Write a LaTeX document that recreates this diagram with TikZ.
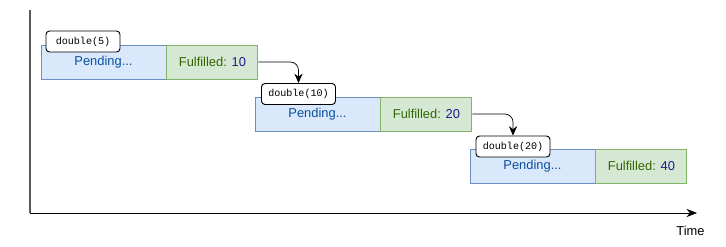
\documentclass[tikz,border=0pt]{standalone}
\usepackage{fontspec}
\setmainfont{Liberation Sans}
\setmonofont{Liberation Mono}
\usepackage{tikz}
\usepackage{xcolor}
\usetikzlibrary{arrows.meta,positioning}

\definecolor{pendfill}{HTML}{DAE8FC}
\definecolor{penddraw}{HTML}{6C8EBF}
\definecolor{pendtext}{HTML}{0A4F9E}
\definecolor{fulfill}{HTML}{D5E8D4}
\definecolor{fuldraw}{HTML}{82B366}
\definecolor{fultext}{HTML}{336600}
\definecolor{valtext}{HTML}{1A1A8C}

\begin{document}
\begin{tikzpicture}[x=0.03cm, y=-0.03cm, node distance=0pt, thick,
    pending/.style={draw=penddraw, fill=pendfill, text=pendtext, minimum width=3.75cm, minimum height=1.02cm, inner sep=0pt, font=\fontsize{11}{13}\selectfont},
    fulfilled/.style={draw=fuldraw, fill=fulfill, text=fultext, minimum width=2.73cm, minimum height=1.02cm, inner sep=0pt, font=\fontsize{11}{13}\selectfont},
    call/.style={draw, fill=white, rounded corners=3pt, minimum width=2.22cm, minimum height=0.63cm, inner sep=0pt, font=\ttfamily\fontsize{8.6}{10}\selectfont},
    link/.style={-{Stealth[length=8pt,width=7pt]}, rounded corners=7pt, semithick}]
    \useasboundingbox (0,0) rectangle (726,246);

    % Axes
    \coordinate (origin) at (30,213);
    \coordinate (top) at (30,10);
    \coordinate (tend) at (697,213);
    \draw[line width=1.2pt, black!65] (top) -- (origin);
    \draw[semithick, -{Stealth[length=9pt,width=7pt]}] (origin) -- (tend);
    \node[anchor=north east, inner sep=0pt, font=\fontsize{11}{13}\selectfont] (time) at (705,226) {Time};

    % Promise stages
    \node[pending] (p1) at (103.5,62) {Pending...};
    \node[fulfilled, right=of p1] (f1) {Fulfilled: \textcolor{valtext}{10}};
    \node[call] (c1) at (83,41.5) {double(5)};

    \node[pending] (p2) at (317.5,114) {Pending...};
    \node[fulfilled, right=of p2] (f2) {Fulfilled: \textcolor{valtext}{20}};
    \node[call] (c2) at (298.5,94) {double(10)};

    \node[pending] (p3) at (532.5,166) {Pending...};
    \node[fulfilled, right=of p3] (f3) {Fulfilled: \textcolor{valtext}{40}};
    \node[call] (c3) at (513,146.5) {double(20)};

    % Chaining
    \draw[link] (f1.east) -| (c2.north);
    \draw[link] (f2.east) -| (c3.north);
\end{tikzpicture}
\end{document}
